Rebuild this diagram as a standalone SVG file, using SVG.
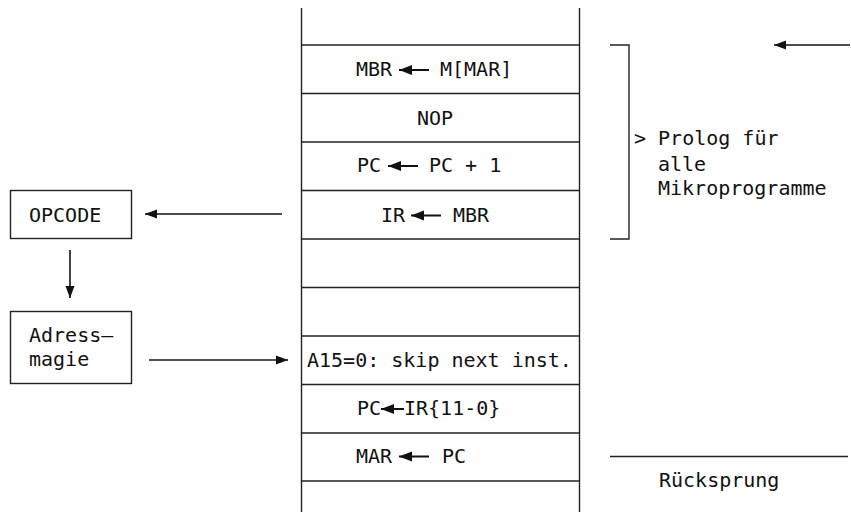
<svg xmlns="http://www.w3.org/2000/svg" width="851" height="512" viewBox="0 0 851 512">
<style>
text{font-family:"DejaVu Sans Mono","Liberation Mono",monospace;font-size:20px;fill:#111}
.ln{stroke:#222;stroke-width:1.4;fill:none}
.ar{stroke:#111;stroke-width:1.6;fill:none;marker-end:url(#ah)}
.ia{stroke:#111;stroke-width:2;fill:none;marker-end:url(#ah2)}
.bx{fill:#fff;stroke:#222;stroke-width:1.4}
</style>
<defs>
<marker id="ah" markerUnits="userSpaceOnUse" markerWidth="13" markerHeight="10" refX="12" refY="5" orient="auto"><path d="M0,0.5 L12,5 L0,9.5 z" fill="#111"/></marker>
<marker id="ah2" markerUnits="userSpaceOnUse" markerWidth="14" markerHeight="11" refX="13" refY="5.5" orient="auto"><path d="M0,0.5 L13,5.5 L0,10.5 z" fill="#111"/></marker>
</defs>
<rect width="851" height="512" fill="#fff"/>
<g id="stack">
<line class="ln" x1="301.5" y1="8" x2="301.5" y2="512"/>
<line class="ln" x1="579.5" y1="8" x2="579.5" y2="512"/>
<line class="ln" x1="301" y1="45" x2="580" y2="45"/>
<line class="ln" x1="301" y1="93.5" x2="580" y2="93.5"/>
<line class="ln" x1="301" y1="142" x2="580" y2="142"/>
<line class="ln" x1="301" y1="190.5" x2="580" y2="190.5"/>
<line class="ln" x1="301" y1="239" x2="580" y2="239"/>
<line class="ln" x1="301" y1="287.5" x2="580" y2="287.5"/>
<line class="ln" x1="301" y1="336" x2="580" y2="336"/>
<line class="ln" x1="301" y1="384.5" x2="580" y2="384.5"/>
<line class="ln" x1="301" y1="433" x2="580" y2="433"/>
<line class="ln" x1="301" y1="481" x2="580" y2="481"/>
</g>
<g id="row1"><text x="356" y="76">MBR</text><line class="ia" x1="429" y1="70" x2="399" y2="70"/><text x="440" y="76">M[MAR]</text></g>
<g id="row2"><text x="417" y="125">NOP</text></g>
<g id="row3"><text x="357" y="172">PC</text><line class="ia" x1="418" y1="166" x2="388" y2="166"/><text x="429" y="172">PC + 1</text></g>
<g id="row4"><text x="381" y="221.5">IR</text><line class="ia" x1="441" y1="215.5" x2="411" y2="215.5"/><text x="453" y="221.5">MBR</text></g>
<g id="row7"><text x="307" y="366.5">A15=0: skip next inst.</text></g>
<g id="row8"><text x="357" y="415">PC</text><line class="ia" x1="404" y1="409" x2="381" y2="409"/><text x="404" y="415">IR{11-0}</text></g>
<g id="row9"><text x="356" y="462.5">MAR</text><line class="ia" x1="429" y1="456.5" x2="399" y2="456.5"/><text x="442" y="462.5">PC</text></g>
<g id="opcode"><rect class="bx" x="10.5" y="190.5" width="121" height="48"/><text x="29" y="221.5">OPCODE</text></g>
<g id="adress"><rect class="bx" x="10.5" y="311.5" width="121" height="72"/><text x="29" y="342">Adress—</text><text x="29" y="366">magie</text></g>
<g id="prolog"><path class="ln" d="M610,45 H629 V239 H610"/><text x="634" y="145">&gt; Prolog für</text><text x="658" y="171">alle</text><text x="658" y="195">Mikroprogramme</text></g>
<g id="ruecksprung"><line class="ln" x1="610" y1="456.5" x2="848" y2="456.5"/><text x="659" y="487">Rücksprung</text></g>
<g id="connectors">
<line class="ar" x1="282" y1="214" x2="145" y2="214"/>
<line class="ar" x1="70" y1="250" x2="70" y2="298"/>
<line class="ar" x1="149" y1="360" x2="288" y2="360"/>
<line class="ar" x1="850" y1="45" x2="774" y2="45"/>
</g>
</svg>
